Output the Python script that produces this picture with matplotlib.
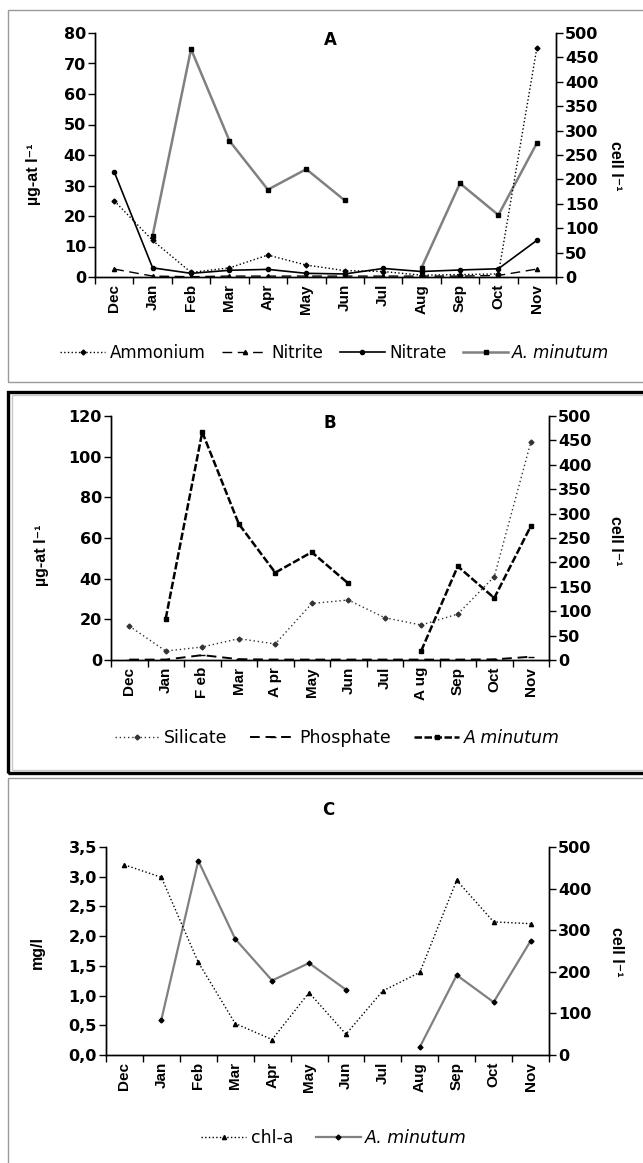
import numpy as np
import matplotlib
matplotlib.use('Agg')
import matplotlib.pyplot as plt
from matplotlib.patches import Rectangle
from matplotlib.ticker import FuncFormatter

plt.rcParams['font.family'] = ['Liberation Sans', 'DejaVu Sans']

months = ['Dec', 'Jan', 'Feb', 'Mar', 'Apr', 'May', 'Jun', 'Jul', 'Aug', 'Sep', 'Oct', 'Nov']
months_b = ['Dec', 'Jan', 'F eb', 'Mar', 'A pr', 'May', 'Jun', 'Jul', 'A ug', 'Sep', 'Oct', 'Nov']

# A. minutum (cell l-1), same series in all panels
minutum = [np.nan, 85, 467, 279, 179, 221, 157, np.nan, 19, 192, 127, 274]

# panel A (µg-at l-1)
ammonium = [25, 12, 1.5, 3, 7.2, 3.9, 2.1, 1.8, 0.6, 0.8, 1.0, 75]
nitrite = [2.6, 0.3, 0.1, 0.3, 0.3, 0.3, 0.3, 0.3, 0.3, 0.3, 0.5, 2.6]
nitrate = [34.5, 3, 1.2, 2.2, 2.5, 1.2, 1.0, 2.8, 1.8, 2.3, 2.7, 12]

# panel B (µg-at l-1)
silicate = [16.7, 4.4, 6.4, 10.5, 7.9, 27.8, 29.5, 20.8, 17.2, 22.6, 41, 107]
phosphate = [0.2, 0.2, 2.4, 0.4, 0.2, 0.2, 0.2, 0.2, 0.2, 0.2, 0.3, 1.6]

# panel C (mg/l)
chla = [3.2, 2.99, 1.56, 0.53, 0.26, 1.05, 0.35, 1.08, 1.39, 2.94, 2.24, 2.21]

W, H = 643, 1163
fig = plt.figure(figsize=(W / 100, H / 100), dpi=100)
x = np.arange(12)
GRAY = '#808080'
WIDE = 'DejaVu Sans'      # wider face for horizontal text (reference is stretched sideways)
tfs = 11.5


def px_ax(l, t, r, b):
    return [l / W, 1 - b / H, (r - l) / W, (b - t) / H]


def style(ax, ax2, labels, ymax, ystep, rmax, rstep, fmt=None):
    ax.set_xlim(-0.5, 11.5)
    ax.set_ylim(0, ymax)
    ax2.set_ylim(0, rmax)
    ax.set_yticks(np.arange(0, ymax + ystep / 2, ystep))
    ax2.set_yticks(np.arange(0, rmax + 1, rstep))
    if fmt:
        ax.yaxis.set_major_formatter(FuncFormatter(fmt))
    ax.set_xticks(x)
    ax.set_xticklabels(labels, rotation=90, fontsize=11, fontweight='bold')
    ax.set_xticks(np.arange(-0.5, 12, 1), minor=True)
    ax.tick_params(axis='x', which='major', length=0, pad=5)
    ax.tick_params(axis='x', which='minor', length=5, width=1, direction='out')
    ax.tick_params(axis='y', length=5, width=1, direction='out', pad=1.5)
    ax2.tick_params(axis='y', length=5, width=1, direction='out', pad=1.5)
    for t in ax.get_yticklabels() + ax2.get_yticklabels():
        t.set_fontsize(tfs)
        t.set_fontweight('bold')
        t.set_family(WIDE)
    for a in (ax, ax2):
        a.spines['top'].set_visible(False)
        for s in ('left', 'right', 'bottom'):
            a.spines[s].set_linewidth(1)
    ax.patch.set_visible(False)


def ylabels(ax, ax2, left, lpos, rpos):
    ax.set_ylabel(left, fontsize=11.5, fontweight='bold')
    ax.yaxis.set_label_coords(*lpos)
    ax2.set_ylabel('cell l⁻¹', fontsize=11.5, fontweight='bold', rotation=270, va='center')
    ax2.yaxis.set_label_coords(*rpos)


# frames
fig.add_artist(Rectangle((8 / W, 1 - 382 / H), 700 / W, 372 / H, transform=fig.transFigure,
                         fill=False, edgecolor='#9a9a9a', lw=1))
fig.add_artist(Rectangle((12 / W, 1 - 770 / H), 700 / W, 375 / H, transform=fig.transFigure,
                         fill=False, edgecolor='#c8c8c8', lw=1))
fig.add_artist(Rectangle((8 / W, 1 - 773 / H), 700 / W, 381 / H, transform=fig.transFigure,
                         fill=False, edgecolor='black', lw=2.4))
fig.add_artist(Rectangle((8 / W, 1 - 1200 / H), 700 / W, 422 / H, transform=fig.transFigure,
                         fill=False, edgecolor='#9a9a9a', lw=1))

# ---- panel A
axA = fig.add_axes(px_ax(95, 33, 556, 277))
axA2 = axA.twinx()
axA.set_zorder(axA2.get_zorder() + 1)
l1, = axA.plot(x, ammonium, color='black', ls=':', lw=1, marker='D', ms=2.5, label='Ammonium')
l2, = axA.plot(x, nitrite, color='black', ls=(0, (7, 4)), lw=1, marker='^', ms=3, label='Nitrite')
l3, = axA.plot(x, nitrate, color='black', ls='-', lw=1.2, marker='o', ms=3, label='Nitrate')
l4, = axA2.plot(x, minutum, color=GRAY, ls='-', lw=1.8, marker='s', ms=3.5, mfc='black', mec='black',
                label='A. minutum')
style(axA, axA2, months, 80, 10, 500, 50)
ylabels(axA, axA2, 'µg-at l⁻¹', (-0.117, 0.42), (1.128, 0.455))
fig.text(330 / W, 1 - 40 / H, 'A', fontsize=12, fontweight='bold', family=WIDE, ha='center', va='center')
legA = fig.legend([l1, l2, l3, l4], ['Ammonium', 'Nitrite', 'Nitrate', 'A. minutum'], loc='center',
                  bbox_to_anchor=(335 / W, 1 - 353 / H), ncol=4, frameon=False,
                  prop={'family': WIDE, 'size': 12},
                  handlelength=2.7, handletextpad=0.25, columnspacing=1.0)
legA.get_texts()[-1].set_fontstyle('italic')

# ---- panel B
axB = fig.add_axes(px_ax(111, 416, 549, 660))
axB2 = axB.twinx()
axB.set_zorder(axB2.get_zorder() + 1)
m1, = axB.plot(x, silicate, color='#333333', ls=(0, (1, 2)), lw=1, marker='D', ms=2.5, label='Silicate')
m2, = axB.plot(x, phosphate, color='black', ls=(0, (5, 3)), lw=1.4, marker='_', ms=4, label='Phosphate')
m3, = axB2.plot(x, minutum, color='black', ls=(0, (3, 1)), lw=1.8, marker='s', ms=3.5, label='A minutum')
style(axB, axB2, months_b, 120, 20, 500, 50)
ylabels(axB, axB2, 'µg-at l⁻¹', (-0.142, 0.43), (1.151, 0.49))
fig.text(330 / W, 1 - 423 / H, 'B', fontsize=12, fontweight='bold', family=WIDE, ha='center', va='center')
legB = fig.legend([m1, m2, m3], ['Silicate', 'Phosphate', 'A minutum'], loc='center',
                  bbox_to_anchor=(337 / W, 1 - 738 / H), ncol=3, frameon=False,
                  prop={'family': WIDE, 'size': 12.5},
                  handlelength=2.6, handletextpad=0.25, columnspacing=1.3)
legB.get_texts()[-1].set_fontstyle('italic')

# ---- panel C
axC = fig.add_axes(px_ax(106, 847, 549, 1055))
axC2 = axC.twinx()
axC.set_zorder(axC2.get_zorder() + 1)
n1, = axC.plot(x, chla, color='black', ls=':', lw=1, marker='^', ms=3, label='chl-a')
n2, = axC2.plot(x, minutum, color=GRAY, ls='-', lw=1.6, marker='D', ms=2.5, mfc='black', mec='black',
                label='A. minutum')
style(axC, axC2, months, 3.5, 0.5, 500, 100, fmt=lambda v, p: f'{v:.1f}'.replace('.', ','))
ylabels(axC, axC2, 'mg/l', (-0.138, 0.495), (1.153, 0.495))
fig.text(328 / W, 1 - 810 / H, 'C', fontsize=12, fontweight='bold', family=WIDE, ha='center', va='center')
legC = fig.legend([n1, n2], ['chl-a', 'A. minutum'], loc='center',
                  bbox_to_anchor=(334 / W, 1 - 1138 / H), ncol=2, frameon=False,
                  prop={'family': WIDE, 'size': 12.5},
                  handlelength=2.6, handletextpad=0.25, columnspacing=1.3)
legC.get_texts()[-1].set_fontstyle('italic')

fig.savefig('out.png', dpi=100)
